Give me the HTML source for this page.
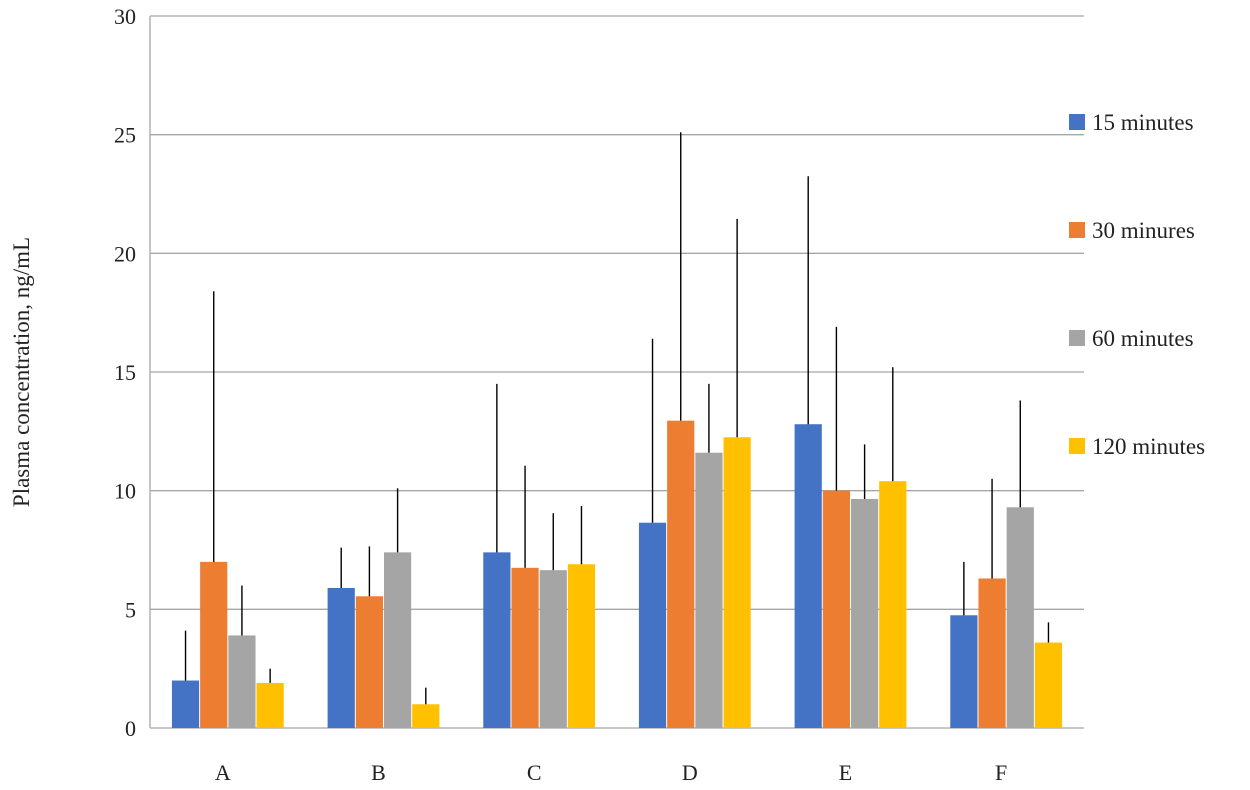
<!DOCTYPE html>
<html><head><meta charset="utf-8"><style>
body{margin:0;background:#fff}
svg{display:block;font-family:"Liberation Serif",serif}
</style></head><body>
<svg id="chart" width="1250" height="790" viewBox="0 0 1250 790" xmlns="http://www.w3.org/2000/svg">
<g id="grid"></g><g id="bars"></g><g id="errs"></g><g id="labels"></g><g id="legend"></g>
<text x="0" y="0" transform="translate(29,372) rotate(-90)" text-anchor="middle" font-size="23" fill="#222">Plasma concentration, ng/mL</text>
</svg>
<script>
const categories=["A","B","C","D","E","F"];
const seriesNames=["15 minutes","30 minures","60 minutes","120 minutes"];
const s15=[2.0,5.9,7.4,8.65,12.8,4.75];
const s30=[7.0,5.55,6.75,12.95,10.0,6.3];
const s60=[3.9,7.4,6.65,11.6,9.65,9.3];
const s120=[1.9,1.0,6.9,12.25,10.4,3.6];
const e15=[4.1,7.6,14.5,16.4,23.25,7.0];
const e30=[18.4,7.65,11.05,25.1,16.9,10.5];
const e60=[6.0,10.1,9.05,14.5,11.95,13.8];
const e120=[2.5,1.7,9.35,21.45,15.2,4.45];
const yTicks=[0,5,10,15,20,25,30];
const colors=["#4472C4","#ED7D31","#A5A5A5","#FFC000"];
const series=[s15,s30,s60,s120], errs=[e15,e30,e60,e120];
const NS="http://www.w3.org/2000/svg";
const X0=150,X1=1084,Y0=728,Y1=16,YMAX=30;
const y=v=>Y0-(v/YMAX)*(Y0-Y1);
const gw=(X1-X0)/categories.length, bw=28.2;
const gx=i=>X0+gw*(i+0.5);
function mk(t,a,p){const e=document.createElementNS(NS,t);for(const k in a)e.setAttribute(k,a[k]);document.getElementById(p).appendChild(e);return e;}
yTicks.forEach(t=>{
 const l=mk("line",{x1:X0,x2:X1,y1:y(t),y2:y(t),stroke:"#a6a6a6","stroke-width":1.3},"grid");
 
 
 const tx=mk("text",{x:136,y:y(t)+8,"text-anchor":"end","font-size":22,fill:"#222"},"labels");tx.textContent=t;
 
 
});
const ax=mk("line",{x1:X0,x2:X0,y1:Y1,y2:Y0,stroke:"#a6a6a6","stroke-width":1.3},"grid");


categories.forEach((c,i)=>{
 const tx=mk("text",{x:gx(i)-5,y:780,"text-anchor":"middle","font-size":22,fill:"#222"},"labels");tx.textContent=c;
 
 
 series.forEach((s,j)=>{
  const bx=gx(i)-2*bw+j*bw;
  const r=mk("rect",{x:bx+0.5,y:y(s[i]),width:bw-1,height:Y0-y(s[i]),fill:colors[j]},"bars");
  
  
  const el=mk("line",{x1:bx+bw/2,x2:bx+bw/2,y1:y(s[i]),y2:y(errs[j][i]),stroke:"#000","stroke-width":1.4},"errs");
  
  
 });
});
const ly=[122,230,338,446];
seriesNames.forEach((n,j)=>{
 const r=mk("rect",{x:1069,y:ly[j]-8,width:16,height:16,fill:colors[j]},"legend");
 
 
 const t=mk("text",{x:1092,y:ly[j]+8,"font-size":23,fill:"#222"},"legend");t.textContent=n;
 
 
});
</script>
</body></html>
